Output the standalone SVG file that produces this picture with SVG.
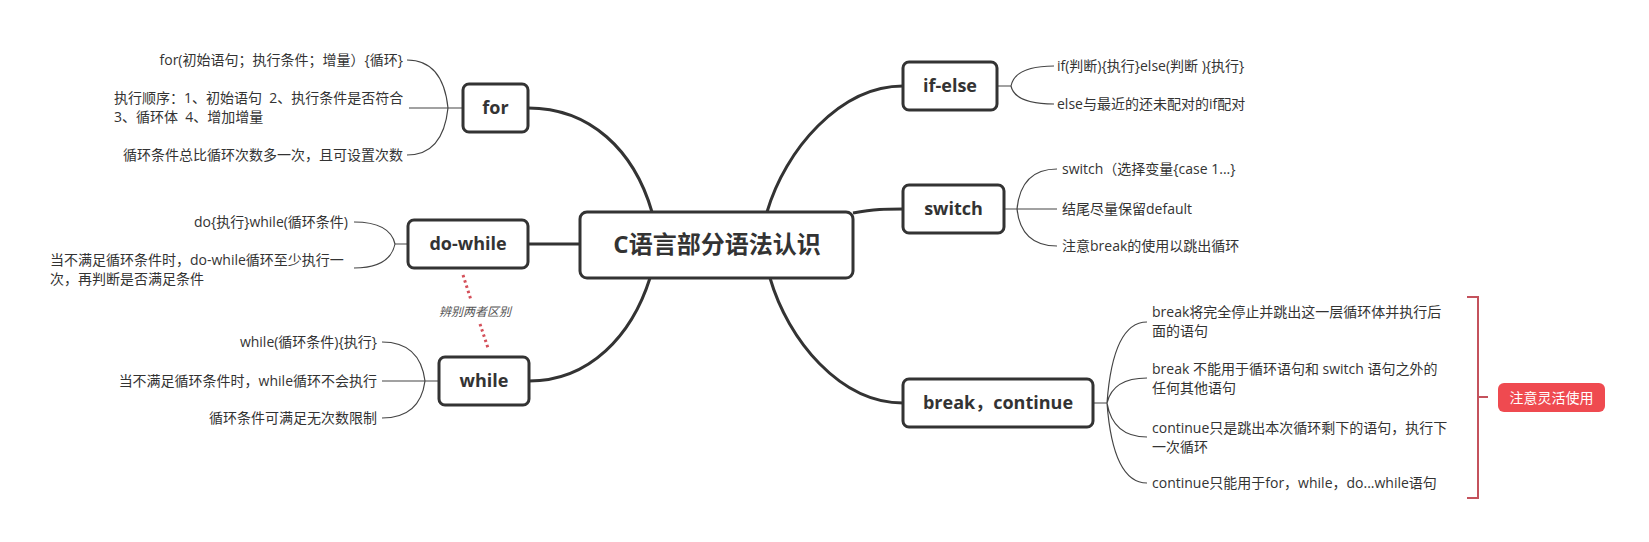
<svg xmlns="http://www.w3.org/2000/svg" width="1649" height="542" viewBox="0 0 1649 542">
<style>
text{font-family:"Open Sans","Noto Sans CJK SC",sans-serif;fill:#333;}
.t{font-size:14px;white-space:pre;}
.n{font-size:18px;font-weight:700;text-anchor:middle;}
.box{fill:#fff;stroke:#333;stroke-width:3;}
.main{fill:none;stroke:#333;stroke-width:3;}
.sub{fill:none;stroke:#444;stroke-width:1.2;}
.e{text-anchor:end;}
</style>
<rect width="1649" height="542" fill="#fff"/>
<g id="connectors">
<path class="main" d="M652,212 C634,150 590,108 528,108"/>
<path class="main" d="M580,244 L528,244"/>
<path class="main" d="M650,278 C632,335 590,381 529,381"/>
<path class="main" d="M767,212 C785,150 840,86 903,86"/>
<path class="main" d="M853,213 C875,209 885,209 903,209"/>
<path class="main" d="M770,278 C788,340 840,403 903,403"/>
<!-- for children -->
<path class="sub" d="M463,108 L448,108 M448,108 Q443,60 407,60 M448,108 L409,108 M448,108 Q443,155 407,155"/>
<!-- do-while children -->
<path class="sub" d="M408,244 L395,244 M395,244 Q390,222 354,222 M395,244 Q390,268 354,268"/>
<!-- while children -->
<path class="sub" d="M439,381 L425,381 M425,381 Q420,342 382,342 M425,381 L382,381 M425,381 Q420,418 382,418"/>
<!-- if-else children -->
<path class="sub" d="M997,86 L1011,86 M1011,86 Q1015,66 1054,66 M1011,86 Q1015,104 1054,104"/>
<!-- switch children -->
<path class="sub" d="M1004,209 L1017,209 M1017,209 Q1021,169 1057,169 M1017,209 L1057,209 M1017,209 Q1021,246 1057,246"/>
<!-- break children -->
<path class="sub" d="M1093,403 L1107,403 M1107,403 Q1113,322 1147,322 M1107,403 Q1113,378 1147,378 M1107,403 Q1113,437 1147,437 M1107,403 Q1113,483 1147,483"/>
<!-- dotted relation -->
<path d="M463,275 L471,300 M480,324 L488,348" fill="none" stroke="#d4505a" stroke-width="3" stroke-dasharray="2.5 3"/>
<!-- bracket -->
<path d="M1467,297 L1478,297 L1478,498 L1467,498 M1478,397 L1488,397" fill="none" stroke="#c4525c" stroke-width="2"/>
</g>
<g id="center">
<rect class="box" x="580" y="212" width="273" height="66" rx="7"/>
<text x="717" y="253" style="font-size:24px;font-weight:700;text-anchor:middle">C语言部分语法认识</text>
</g>
<g id="for">
<rect class="box" x="463" y="84" width="65" height="48" rx="6"/>
<text class="n" x="495.5" y="114">for</text>
<text class="t e" x="403" y="65">for(初始语句；执行条件；增量）{循环}</text>
<text class="t" x="114" y="103">执行顺序：1、初始语句  2、执行条件是否符合</text>
<text class="t" x="114" y="122">3、循环体  4、增加增量</text>
<text class="t e" x="403" y="160">循环条件总比循环次数多一次，且可设置次数</text>
</g>
<g id="do-while">
<rect class="box" x="408" y="220" width="120" height="48" rx="6"/>
<text class="n" x="468" y="250">do-while</text>
<text class="t e" x="348" y="227">do{执行}while(循环条件)</text>
<text class="t" x="50" y="265">当不满足循环条件时，do-while循环至少执行一</text>
<text class="t" x="50" y="284">次，再判断是否满足条件</text>
</g>
<g id="relation">
<text x="475" y="316" style="font-size:12px;font-style:italic;fill:#555;text-anchor:middle">辨别两者区别</text>
</g>
<g id="while">
<rect class="box" x="439" y="357" width="90" height="48" rx="6"/>
<text class="n" x="484" y="387">while</text>
<text class="t e" x="377" y="347">while(循环条件){执行}</text>
<text class="t e" x="377" y="386">当不满足循环条件时，while循环不会执行</text>
<text class="t e" x="377" y="423">循环条件可满足无次数限制</text>
</g>
<g id="if-else">
<rect class="box" x="903" y="62" width="94" height="48" rx="6"/>
<text class="n" x="950" y="92">if-else</text>
<text class="t" x="1057" y="71">if(判断){执行}else(判断 ){执行}</text>
<text class="t" x="1057" y="109">else与最近的还未配对的if配对</text>
</g>
<g id="switch">
<rect class="box" x="903" y="185" width="101" height="48" rx="6"/>
<text class="n" x="953.5" y="215">switch</text>
<text class="t" x="1062" y="174">switch（选择变量{case 1...}</text>
<text class="t" x="1062" y="214">结尾尽量保留default</text>
<text class="t" x="1062" y="251">注意break的使用以跳出循环</text>
</g>
<g id="break-continue">
<rect class="box" x="903" y="379" width="190" height="48" rx="6"/>
<text class="n" x="998" y="409">break，continue</text>
<text class="t" x="1152" y="317">break将完全停止并跳出这一层循环体并执行后</text>
<text class="t" x="1152" y="336">面的语句</text>
<text class="t" x="1152" y="374">break 不能用于循环语句和 switch 语句之外的</text>
<text class="t" x="1152" y="393">任何其他语句</text>
<text class="t" x="1152" y="433">continue只是跳出本次循环剩下的语句，执行下</text>
<text class="t" x="1152" y="452">一次循环</text>
<text class="t" x="1152" y="488">continue只能用于for，while，do...while语句</text>
</g>
<g id="note">
<rect x="1498" y="383" width="107" height="29" rx="6" fill="#ef4a50"/>
<text x="1551.5" y="402.5" style="font-size:14px;fill:#fff;text-anchor:middle">注意灵活使用</text>
</g>
</svg>
